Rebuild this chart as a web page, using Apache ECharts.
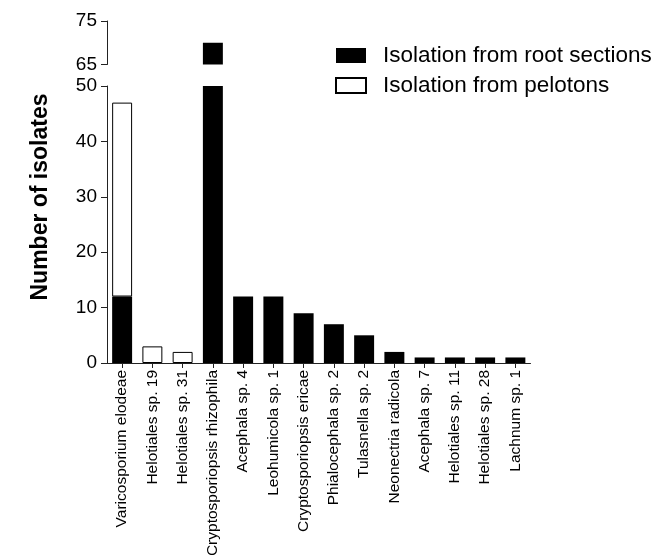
<!DOCTYPE html>
<html>
<head>
<meta charset="utf-8">
<script src="https://cdn.jsdelivr.net/npm/echarts@6/dist/echarts.min.js"></script>
<style>html,body{margin:0;padding:0;background:#fff;}#c{width:657px;height:555px;}</style>
</head>
<body>
<div id="c"></div>
<script>
var categories = ['Varicosporium elodeae','Helotiales sp. 19','Helotiales sp. 31','Cryptosporiopsis rhizophila','Acephala sp. 4','Leohumicola sp. 1','Cryptosporiopsis ericae','Phialocephala sp. 2','Tulasnella sp. 2','Neonectria radicola','Acephala sp. 7','Helotiales sp. 11','Helotiales sp. 28','Lachnum sp. 1'];
var rootSections = [12,0,0,70,12,12,9,7,5,2,1,1,1,1];
var pelotons = [35,3,2,0,0,0,0,0,0,0,0,0,0,0];
var lowerRange = [0,50];
var upperRange = [65,75];
var seriesNames = ['Isolation from root sections','Isolation from pelotons'];
var yTitle = 'Number of isolates';

var FONT = "'Liberation Sans', Arial, sans-serif";
var AX = '#222';
function nz(a){ return a.map(function(v){ return v === 0 ? '-' : v; }); }
var uBase = upperRange[0];
var uSpan = upperRange[1] - upperRange[0];

var chart = echarts.init(document.getElementById('c'), null, {renderer:'canvas'});
var L = 107, R = 657-530.5;
chart.setOption({
  animation:false,
  backgroundColor:'#fff',
  textStyle:{fontFamily:FONT},
  grid:[
    {left:L, right:R, top:86, bottom:555-363, containLabel:false, outerBoundsMode:'none'},
    {left:L, right:R, top:21, bottom:555-64.5, containLabel:false, outerBoundsMode:'none'}
  ],
  legend:{
    orient:'vertical', left:330, top:39,
    itemWidth:30, itemHeight:15, itemGap:7,
    icon:'rect',
    textStyle:{fontSize:22.5, color:'#000', fontFamily:FONT, padding:[0,0,0,12]},
    data:seriesNames
  },
  xAxis:[
    {type:'category', gridIndex:0, data:categories,
     axisLine:{lineStyle:{color:AX, width:1}},
     axisTick:{show:true, alignWithLabel:true, length:5, lineStyle:{color:AX, width:1}},
     axisLabel:{rotate:90, fontSize:15.5, color:'#000', margin:7, interval:0, fontFamily:FONT}},
    {type:'category', gridIndex:1, data:categories, show:false}
  ],
  yAxis:[
    {type:'value', gridIndex:0, min:lowerRange[0], max:lowerRange[1], interval:10,
     splitLine:{show:false},
     axisLine:{show:true, lineStyle:{color:AX}},
     axisTick:{show:true, inside:false, length:6, lineStyle:{color:AX, width:1}},
     axisLabel:{fontSize:19, color:'#000', margin:10, fontFamily:FONT}},
    {type:'value', gridIndex:1, min:0, max:uSpan, interval:uSpan,
     splitLine:{show:false},
     axisLine:{show:true, lineStyle:{color:AX}},
     axisTick:{show:true, inside:false, length:6, lineStyle:{color:AX, width:1}},
     axisLabel:{fontSize:19, color:'#000', margin:10, fontFamily:FONT,
       formatter:function(v){ return String(v + uBase); }}}
  ],
  graphic:[{
    type:'text', x:41, y:197, rotation:Math.PI/2,
    style:{text:yTitle, fill:'#000', font:"bold 23px 'Liberation Sans', Arial, sans-serif", align:'center', verticalAlign:'middle'}
  }],
  series:[
    {name:seriesNames[0], type:'bar', xAxisIndex:0, yAxisIndex:0, stack:'a', data:nz(rootSections),
     barCategoryGap:'34%', itemStyle:{color:'#000'}},
    {name:seriesNames[1], type:'bar', xAxisIndex:0, yAxisIndex:0, stack:'a', data:nz(pelotons),
     itemStyle:{color:'#fff', borderColor:'#000', borderWidth:1}},
    {name:seriesNames[0], type:'bar', xAxisIndex:1, yAxisIndex:1,
     data:rootSections.map(function(v){ return v > uBase ? v - uBase : '-'; }),
     barCategoryGap:'34%', itemStyle:{color:'#000'}, clip:true}
  ]
});
</script>
</body>
</html>
